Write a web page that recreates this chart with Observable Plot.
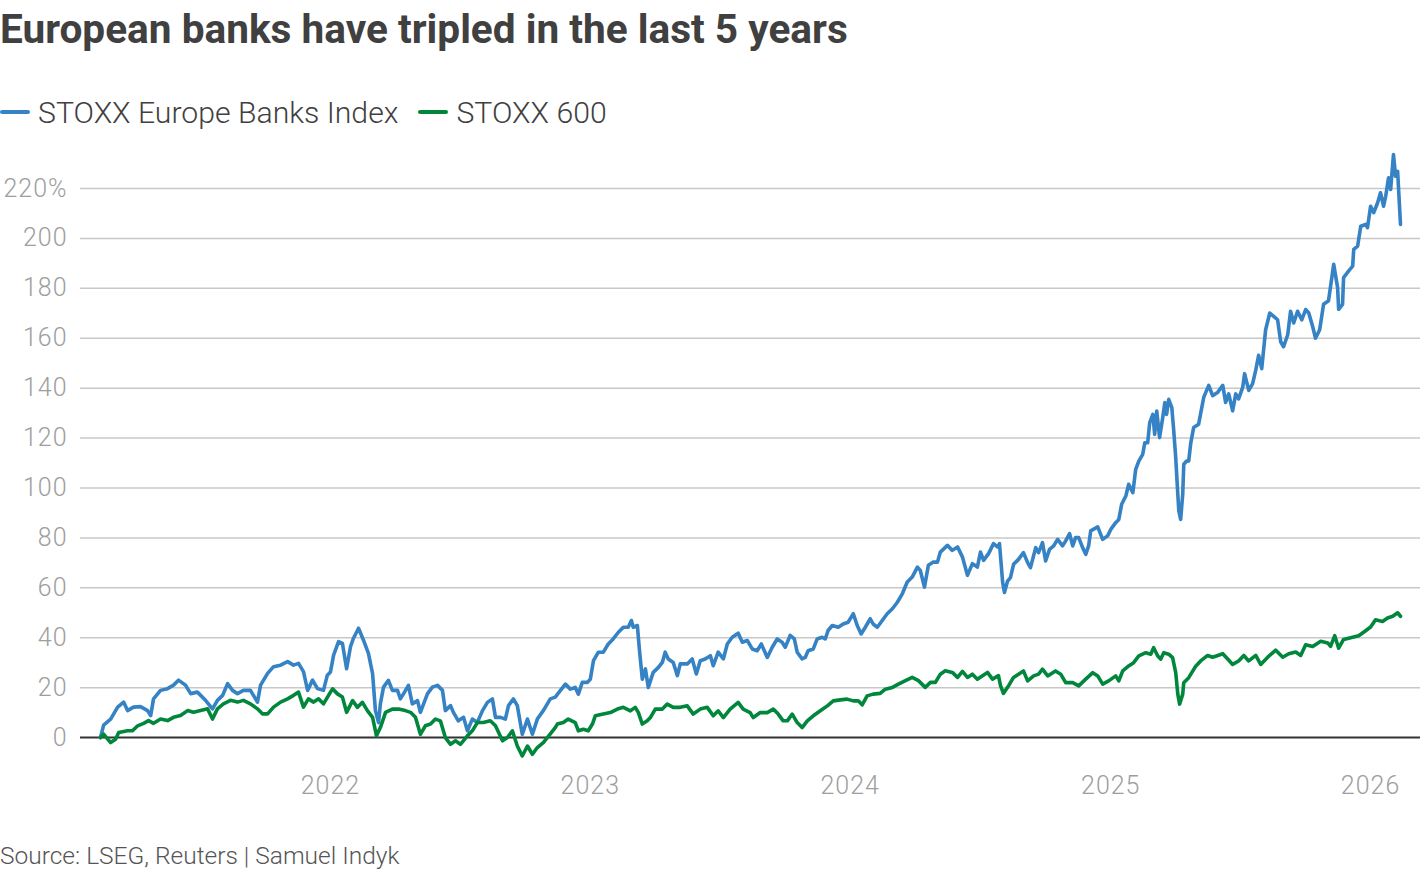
<!DOCTYPE html>
<html>
<head>
<meta charset="utf-8">
<script src="https://cdn.jsdelivr.net/npm/d3@7"></script>
<script src="https://cdn.jsdelivr.net/npm/@observablehq/plot@0.6"></script>
<style>
  html, body { margin: 0; padding: 0; background: #fff; }
  body { width: 1420px; height: 870px; overflow: hidden; position: relative; font-family: Roboto, "Noto Sans", sans-serif; }
  #title { position: absolute; left: 0; top: 5px; font-size: 40.6px; font-weight: 700; color: #404040; white-space: nowrap; }
  #legend { position: absolute; left: 0; top: 94px; height: 36px; font-size: 30.2px; font-weight: 300; color: #404040; display: flex; align-items: center; white-space: nowrap; }
  .item { display: flex; align-items: center; margin-right: 20px; }
  .sw { display: inline-block; width: 30px; height: 4px; border-radius: 2px; margin-right: 8px; }
  #chart { position: absolute; left: 0; top: 120px; }
  #chart text { font-family: Roboto, "Noto Sans", sans-serif; font-weight: 300; letter-spacing: 1px; }
  #caption { position: absolute; left: 0; top: 841px; font-size: 24.5px; font-weight: 300; color: #555; white-space: nowrap; }
</style>
</head>
<body>
<div id="title">European banks have tripled in the last 5 years</div>
<div id="legend"></div>
<div id="chart"></div>
<div id="caption">Source: LSEG, Reuters | Samuel Indyk</div>
<script>
// ---- Data (percent change since start; dates as decimal years) ----
const seriesNames = ["STOXX Europe Banks Index", "STOXX 600"];
const seriesColors = ["#3582c4", "#00873c"];

const bankDates = [2021.115,2021.127,2021.154,2021.181,2021.204,2021.219,2021.242,2021.269,2021.296,2021.308,2021.319,2021.346,2021.373,2021.396,2021.415,2021.442,2021.462,2021.488,2021.519,2021.546,2021.565,2021.585,2021.604,2021.623,2021.642,2021.665,2021.692,2021.719,2021.731,2021.758,2021.781,2021.808,2021.835,2021.858,2021.877,2021.896,2021.912,2021.931,2021.950,2021.973,2021.988,
2022.000,2022.012,2022.031,2022.046,2022.062,2022.077,2022.088,2022.108,2022.127,2022.146,2022.162,2022.173,2022.185,2022.192,2022.204,2022.223,2022.238,2022.258,2022.269,2022.281,2022.300,2022.315,2022.335,2022.346,2022.373,2022.392,2022.412,2022.431,2022.442,2022.462,2022.473,2022.492,2022.512,2022.527,2022.546,2022.565,2022.585,2022.604,2022.623,2022.635,2022.654,2022.673,2022.685,2022.704,2022.719,2022.738,2022.758,2022.777,2022.796,2022.819,2022.846,2022.865,2022.885,2022.904,2022.923,2022.942,2022.954,2022.969,2022.988,
2023.000,2023.012,2023.031,2023.050,2023.069,2023.088,2023.108,2023.127,2023.146,2023.158,2023.165,2023.181,2023.188,2023.200,2023.212,2023.223,2023.242,2023.262,2023.277,2023.288,2023.300,2023.319,2023.335,2023.346,2023.373,2023.392,2023.408,2023.423,2023.442,2023.462,2023.473,2023.492,2023.512,2023.527,2023.546,2023.569,2023.585,2023.604,2023.623,2023.642,2023.658,2023.681,2023.700,2023.719,2023.738,2023.750,2023.769,2023.785,2023.796,2023.815,2023.827,2023.838,2023.858,2023.873,2023.892,2023.904,2023.915,2023.931,2023.954,2023.973,2023.992,
2024.012,2024.027,2024.042,2024.058,2024.077,2024.088,2024.104,2024.123,2024.142,2024.162,2024.181,2024.200,2024.219,2024.238,2024.258,2024.269,2024.285,2024.300,2024.319,2024.335,2024.346,2024.373,2024.392,2024.412,2024.431,2024.450,2024.469,2024.488,2024.500,2024.512,2024.531,2024.550,2024.565,2024.573,2024.585,2024.592,2024.604,2024.615,2024.627,2024.646,2024.665,2024.681,2024.692,2024.712,2024.723,2024.738,2024.750,2024.765,2024.781,2024.796,2024.815,2024.827,2024.842,2024.854,2024.865,2024.877,2024.892,2024.904,2024.915,2024.923,2024.950,2024.969,2024.988,
2025.000,2025.019,2025.031,2025.042,2025.058,2025.069,2025.085,2025.096,2025.108,2025.123,2025.131,2025.142,2025.150,2025.162,2025.169,2025.177,2025.188,2025.200,2025.208,2025.215,2025.223,2025.235,2025.242,2025.250,2025.258,2025.262,2025.269,2025.277,2025.281,2025.292,2025.300,2025.308,2025.319,2025.338,2025.358,2025.377,2025.392,2025.412,2025.431,2025.442,2025.454,2025.469,2025.481,2025.492,2025.508,2025.515,2025.531,2025.546,2025.558,2025.569,2025.581,2025.596,2025.612,2025.627,2025.642,2025.654,2025.665,2025.681,2025.692,2025.704,2025.719,2025.735,2025.750,2025.762,2025.777,2025.788,2025.804,2025.819,2025.838,2025.858,2025.873,2025.877,2025.892,2025.896,2025.915,2025.931,2025.935,2025.950,2025.962,2025.981,2025.988,
2026.000,2026.012,2026.027,2026.038,2026.050,2026.058,2026.069,2026.077,2026.088,2026.096,2026.104,2026.115];

const bankValues = [0,5,7.4,12.2,14.2,10.8,12.2,12.4,10.8,8.8,15.5,18.9,19.6,21,23,21,17.6,18.2,14.9,11.5,14.9,16.9,21.6,18.9,17.6,18.9,18.9,14.2,21,25.7,28.4,29,30.4,29,29.7,26.4,18.9,23,19.6,18.9,25,
26.3,33,38.4,37.7,27.6,36.4,39.7,43.8,39,33.7,25.6,10.8,6,13.5,20.2,22.9,18.9,18.9,15.5,17.5,20.9,13.5,14.8,10.1,17.5,20.2,20.9,18.9,10.8,12.8,10.1,6.7,8.1,2.7,7.4,6,10.8,14.1,15.5,8.1,8.1,7.4,12.8,15.5,12.8,1.3,7.4,1.3,7.4,10.8,15.5,16.2,18.9,21.4,19.4,20.1,17.4,22.1,22.1,
23.4,30.8,34.2,34.2,37.5,39.5,42.2,44.2,44.2,46.9,44.2,44.9,36.2,23.4,27.5,20.1,26.1,28.1,30.1,34.2,31.5,30.1,24.8,29.5,29.5,31.5,25.5,30.8,31.5,32.8,28.8,34.2,31.5,37.5,40.2,41.8,38.2,38.9,35.5,34.8,37.5,32.1,36.2,39.5,38.2,36.2,40.9,39.5,34.2,31.5,32.1,34.8,35.5,39.5,40.2,39.5,42.9,44.9,44.2,45.5,46.2,
49.6,44.9,41.5,44.2,47.6,45.5,44.2,46.9,49.6,51.6,54.2,57.6,62.3,64.3,68.3,67,60.3,69,70.3,70.3,74.3,77,75,76.4,72.3,65,69.7,68.3,74.3,71,73.7,77.7,76.4,77.7,62.3,58.1,62.7,64.1,69.4,71.4,74.1,70.1,68.1,76.1,74.1,78.1,70.8,75.4,76.8,79.4,76.8,78.8,81.7,76.8,80.1,80.1,76.1,73.4,76.8,82.8,84.4,79.4,80.8,
83.4,86.1,87.4,93.5,96.8,101.5,98.1,107.5,110.8,113.5,118.1,118.1,126.2,129.5,121.5,130.8,120.2,128.2,134.2,129.5,135.5,132.2,123.5,112.2,97.5,90.8,87.4,97.5,109.5,110.8,110.8,118.1,124.2,125.5,136.4,141.1,137,138.4,141.1,134.3,137.7,130.9,137.7,135.7,140.4,145.8,139.1,141.8,147.2,153.2,147.8,163.4,170.1,168.8,167.4,158.6,156.6,161.4,170.8,166.1,170.8,167.4,171.5,170.1,164.7,160,163.4,173.6,175,189.6,180.3,171.6,173.6,184.3,186.9,188.9,195.6,196.9,204.9,205.6,204.3,
212.9,210.3,214.3,218.3,212.9,216.9,224.3,219.6,233.6,224.9,226.9,205.6];

const stoxxDates = [2021.115,2021.127,2021.154,2021.173,2021.185,2021.219,2021.238,2021.258,2021.281,2021.300,2021.319,2021.346,2021.373,2021.396,2021.423,2021.450,2021.473,2021.500,2021.527,2021.546,2021.565,2021.588,2021.615,2021.642,2021.665,2021.692,2021.719,2021.738,2021.758,2021.781,2021.808,2021.835,2021.858,2021.877,2021.896,2021.915,2021.935,2021.954,2021.973,
2022.000,2022.008,2022.027,2022.046,2022.062,2022.085,2022.104,2022.123,2022.142,2022.162,2022.177,2022.192,2022.212,2022.238,2022.262,2022.288,2022.308,2022.327,2022.346,2022.365,2022.385,2022.404,2022.423,2022.442,2022.462,2022.481,2022.500,2022.527,2022.546,2022.565,2022.588,2022.615,2022.635,2022.662,2022.681,2022.700,2022.719,2022.738,2022.758,2022.777,2022.796,2022.819,2022.846,2022.865,2022.873,2022.896,2022.915,2022.942,2022.954,2022.973,2022.992,
2023.008,2023.019,2023.050,2023.077,2023.104,2023.127,2023.154,2023.173,2023.185,2023.200,2023.219,2023.231,2023.250,2023.277,2023.296,2023.319,2023.346,2023.373,2023.396,2023.423,2023.450,2023.473,2023.492,2023.512,2023.538,2023.569,2023.588,2023.615,2023.627,2023.654,2023.681,2023.704,2023.723,2023.742,2023.758,2023.777,2023.796,2023.815,2023.835,2023.858,2023.885,2023.912,2023.935,2023.962,2023.988,
2024.012,2024.031,2024.046,2024.065,2024.088,2024.115,2024.135,2024.162,2024.185,2024.212,2024.238,2024.262,2024.288,2024.308,2024.327,2024.346,2024.365,2024.392,2024.412,2024.431,2024.450,2024.469,2024.488,2024.508,2024.527,2024.546,2024.569,2024.577,2024.588,2024.608,2024.627,2024.646,2024.665,2024.681,2024.704,2024.723,2024.738,2024.758,2024.788,2024.808,2024.827,2024.854,2024.877,2024.904,2024.931,2024.950,2024.969,2024.992,
2025.019,2025.031,2025.046,2025.069,2025.088,2025.108,2025.135,2025.154,2025.165,2025.181,2025.192,2025.204,2025.223,2025.238,2025.250,2025.258,2025.265,2025.277,2025.281,2025.300,2025.327,2025.346,2025.373,2025.392,2025.412,2025.431,2025.450,2025.469,2025.492,2025.512,2025.531,2025.558,2025.577,2025.604,2025.635,2025.662,2025.685,2025.712,2025.731,2025.750,2025.777,2025.808,2025.835,2025.846,2025.862,2025.877,2025.896,2025.923,2025.954,2025.973,
2026.000,2026.019,2026.046,2026.065,2026.085,2026.104,2026.115];

const stoxxValues = [0,1.4,-2,-0.7,2,2.7,2.7,4.7,5.7,6.8,5.7,7.4,6.8,8.1,8.8,10.8,10.1,10.8,11.5,7.4,11.5,13.5,14.9,14.2,14.9,13.5,11.5,9.5,9.5,12.2,14.2,15.5,16.9,18.2,12.2,15.5,14.2,15.5,13.5,
18.2,19.5,17.5,16.2,10.1,14.8,12.1,14.1,10.8,8.1,0.7,4,10.1,11.4,11.4,10.8,10.1,8.1,1.3,4.7,5.4,7.4,6.7,0,-2.7,-1.3,-2.7,0.7,2.7,6,6,6.7,4.7,-1.3,0,2.7,-3.4,-7.4,-3.4,-6.7,-4,-2,1.5,4,5.4,6,7.4,6,2.7,3.3,2.7,
5.4,8.7,9.4,10,11.4,12.1,10.7,12.1,10,5.4,6.7,8,11.4,11.4,13.4,12.1,12.1,12.7,9.4,11.4,12.1,8.7,10.7,8,11.4,14.1,11.4,10,8,10,10,11.4,9.4,6.7,6.7,9.4,6,4,6.7,8.7,10.7,12.7,14.7,15.1,15.4,
14.7,14.7,13.1,16.7,17.4,17.7,19.4,20.1,21.4,22.8,24.1,22.8,20.1,22.1,22.1,25.4,26.8,26.1,24.1,26.5,24.1,25.4,23.4,24.8,26.1,23.4,24.8,20.8,17.7,20.8,24.1,25.4,26.7,22.7,24.7,25.4,27.4,24.7,26.7,25.4,22,22,20.7,23.4,26,24.7,21.4,22.7,
24.7,22.7,26.7,28.7,30,32.7,34,33.4,36,32.7,31.4,34,33.4,32,26,17.4,13.4,17.4,22,24,28.6,30.7,32.9,32.2,32.9,33.6,31.5,29.3,30.7,32.9,30.7,32.9,29.3,32.2,35,32.2,33.6,34.3,32.9,37.2,36.5,38.6,37.9,36.5,40.8,35.8,39.3,40,40.8,42.2,
44.3,47.2,46.5,47.9,48.6,50,48.6];

const yTicks = [0, 20, 40, 60, 80, 100, 120, 140, 160, 180, 200, 220];
const xTickYears = [2022, 2023, 2024, 2025, 2026];
const xDomainYears = [2021.038, 2026.192];
const yDomain = [-10, 240];

// ---- helpers ----
function decYear(t) {
  const y = Math.floor(t);
  const a = Date.UTC(y, 0, 1), b = Date.UTC(y + 1, 0, 1);
  return new Date(a + (t - y) * (b - a));
}

const data = [
  ...bankDates.map((d, i) => ({date: decYear(d), value: bankValues[i], series: seriesNames[0]})),
  ...stoxxDates.map((d, i) => ({date: decYear(d), value: stoxxValues[i], series: seriesNames[1]}))
];

// ---- legend ----
const legend = document.getElementById("legend");
seriesNames.forEach((name, i) => {
  const item = document.createElement("span");
  item.className = "item";
  const sw = document.createElement("span");
  sw.className = "sw";
  sw.style.background = seriesColors[i];
  item.appendChild(sw);
  item.appendChild(document.createTextNode(name));
  legend.appendChild(item);
});

// ---- chart ----
const chart = Plot.plot({
  width: 1420,
  height: 700,
  marginLeft: 80,
  marginRight: 0,
  marginTop: 18.1,
  marginBottom: 58,
  style: {fontFamily: "Roboto, 'Noto Sans', sans-serif", fontSize: "25px", background: "transparent", overflow: "visible"},
  x: {type: "utc", domain: xDomainYears.map(decYear)},
  y: {domain: yDomain},
  color: {domain: seriesNames, range: seriesColors},
  marks: [
    Plot.ruleY(yTicks.filter(d => d !== 0), {stroke: "#c8c8c8", strokeWidth: 1.5}),
    Plot.axisY(yTicks, {
      tickSize: 0, tickPadding: 13, fill: "#9e9e9e", fontSize: 25, label: null,
      tickFormat: d => d === 220 ? "220%" : String(d)
    }),
    Plot.axisX(xTickYears.map(decYear), {
      tickSize: 0, tickPadding: 14, fill: "#9e9e9e", fontSize: 25, label: null,
      tickFormat: d3.utcFormat("%Y")
    }),
    Plot.ruleY([0], {stroke: "#333", strokeWidth: 2}),
    Plot.line(data, {x: "date", y: "value", z: "series", stroke: "series", strokeWidth: 3.6, strokeLinejoin: "round", strokeLinecap: "round"})
  ]
});
document.getElementById("chart").appendChild(chart);
</script>
</body>
</html>
